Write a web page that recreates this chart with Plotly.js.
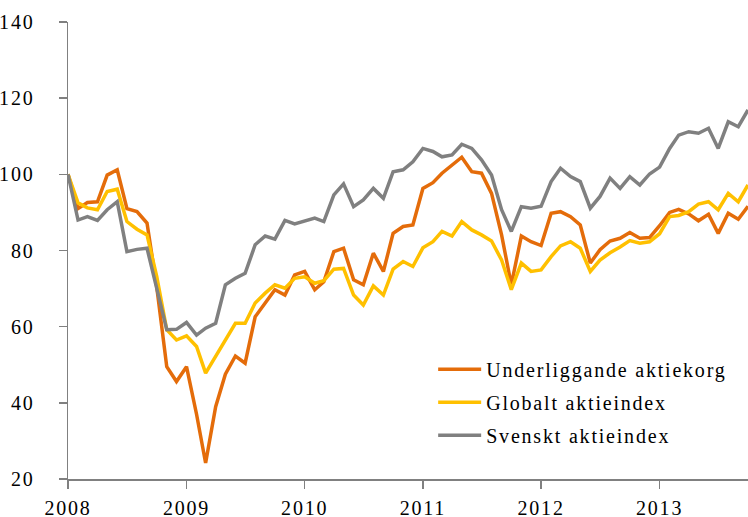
<!DOCTYPE html>
<html>
<head>
<meta charset="utf-8">
<script src="https://cdn.plot.ly/plotly-3.0.1.min.js"></script>
<style>
html,body{margin:0;padding:0;background:#fff;}
#chart{width:748px;height:517px;}
text{letter-spacing:1.8px;}
</style>
</head>
<body>
<div id="chart"></div>
<script>
// Monthly observations, Jan 2008 .. Oct 2013 (index = 100 at start)
var startYear = 2008;
var seriesNames = ["Underliggande aktiekorg", "Globalt aktieindex", "Svenskt aktieindex"];
var underliggande = [100, 91, 92.6, 92.8, 99.8, 101.2, 91, 90.2, 87.2, 70.5, 49.5, 45.6,
  49.5, 37, 24.2, 39, 47.5, 52.3, 50.4, 62.6, 66.2, 69.7, 68.3, 73.6,
  74.5, 69.7, 71.8, 79.7, 80.6, 72.3, 71, 79.3, 74.5, 84.5, 86.3, 86.7,
  96.3, 97.8, 100.3, 102.5, 104.5, 100.7, 100.3, 95, 84.1, 71, 83.8, 82.3,
  81.3, 89.8, 90.2, 88.9, 86.7, 76.7, 80.2, 82.5, 83.2, 84.7, 83.2, 83.4,
  86.5, 90, 90.8, 89.6, 87.8, 89.5, 84.5, 89.8, 88.2, 91.6];
var globalt = [100, 92.5, 91.2, 90.7, 95.5, 96.1, 87.6, 85.6, 84.1, 73.2, 59.2, 56.5,
  57.6, 54.8, 47.8, 52.2, 56.5, 60.9, 60.9, 66.2, 68.8, 71, 70.1, 72.7,
  73.1, 71.4, 72.1, 75.1, 75.3, 68.3, 65.7, 70.7, 68.3, 75.1, 77.1, 75.8,
  80.7, 82.3, 85, 83.8, 87.6, 85.4, 84.1, 82.5, 77.5, 69.7, 76.7, 74.5,
  74.9, 78.4, 81.2, 82.3, 80.6, 74.5, 77.5, 79.4, 80.9, 82.6, 81.9, 82.3,
  84.4, 88.9, 89.2, 90.2, 92.2, 92.8, 90.7, 95, 92.8, 97.2];
var svenskt = [100, 88, 88.9, 87.9, 90.7, 92.8, 79.7, 80.3, 80.6, 70.5, 59.2, 59.3,
  61.1, 57.8, 59.6, 60.9, 71, 72.7, 74, 81.5, 83.8, 83, 87.9, 87,
  87.8, 88.5, 87.6, 94.6, 97.5, 91.5, 93.3, 96.3, 93.7, 100.7, 101.2, 103.3,
  106.8, 106, 104.6, 105.1, 107.9, 106.8, 103.8, 99.8, 90.7, 85, 91.5, 91.1,
  91.6, 98.1, 101.6, 99.4, 98.1, 91.1, 94.2, 99, 96.3, 99.4, 97.2, 100.1,
  101.9, 106.8, 110.3, 111.2, 110.8, 112.1, 106.8, 113.8, 112.5, 116.9];
var yearTicks = ["2008", "2009", "2010", "2011", "2012", "2013"];

function monthDates(n) {
  var out = [];
  for (var i = 0; i < n; i++) {
    var y = startYear + Math.floor(i / 12);
    var m = (i % 12) + 1;
    out.push(y + "-" + (m < 10 ? "0" + m : m) + "-01");
  }
  return out;
}
var dates = monthDates(underliggande.length);

var colors = ["#E46C0A", "#FFC000", "#808080"];
var values = [underliggande, globalt, svenskt];
var traces = values.map(function (v, i) {
  return {
    x: dates, y: v, type: "scatter", mode: "lines",
    name: seriesNames[i], legendgroup: "g" + i,
    line: {color: colors[i], width: 3.5}
  };
});

var font = {family: "Liberation Serif, Times New Roman, serif", size: 20, color: "#000"};
var layout = {
  width: 748, height: 517,
  margin: {l: 68, r: 0, t: 22, b: 38},
  paper_bgcolor: "#fff", plot_bgcolor: "#fff",
  font: font,
  showlegend: true,
  legend: {x: 0.537, y: 0.283, xanchor: "left", yanchor: "top",
    bgcolor: "rgba(0,0,0,0)", font: font, tracegroupgap: 4, itemwidth: 43},
  xaxis: {
    type: "date", range: [dates[0], dates[dates.length - 1]],
    tickmode: "array", tickvals: yearTicks.map(function (y) { return y + "-01-01"; }),
    ticktext: yearTicks,
    showgrid: false, zeroline: false, showline: true, linecolor: "#808080", linewidth: 1.5,
    ticks: "outside", ticklen: 8, tickcolor: "#808080", tickwidth: 1.5,
    ticklabelstandoff: 2, tickfont: font
  },
  yaxis: {
    range: [20, 140], dtick: 20, tick0: 20,
    showgrid: false, zeroline: false, showline: true, linecolor: "#808080", linewidth: 1.5,
    ticks: "outside", ticklen: 8, tickcolor: "#808080", tickwidth: 1.5,
    ticklabelstandoff: 20, tickfont: font
  }
};
Plotly.newPlot("chart", traces, layout, {displayModeBar: false, staticPlot: true});
</script>
</body>
</html>
